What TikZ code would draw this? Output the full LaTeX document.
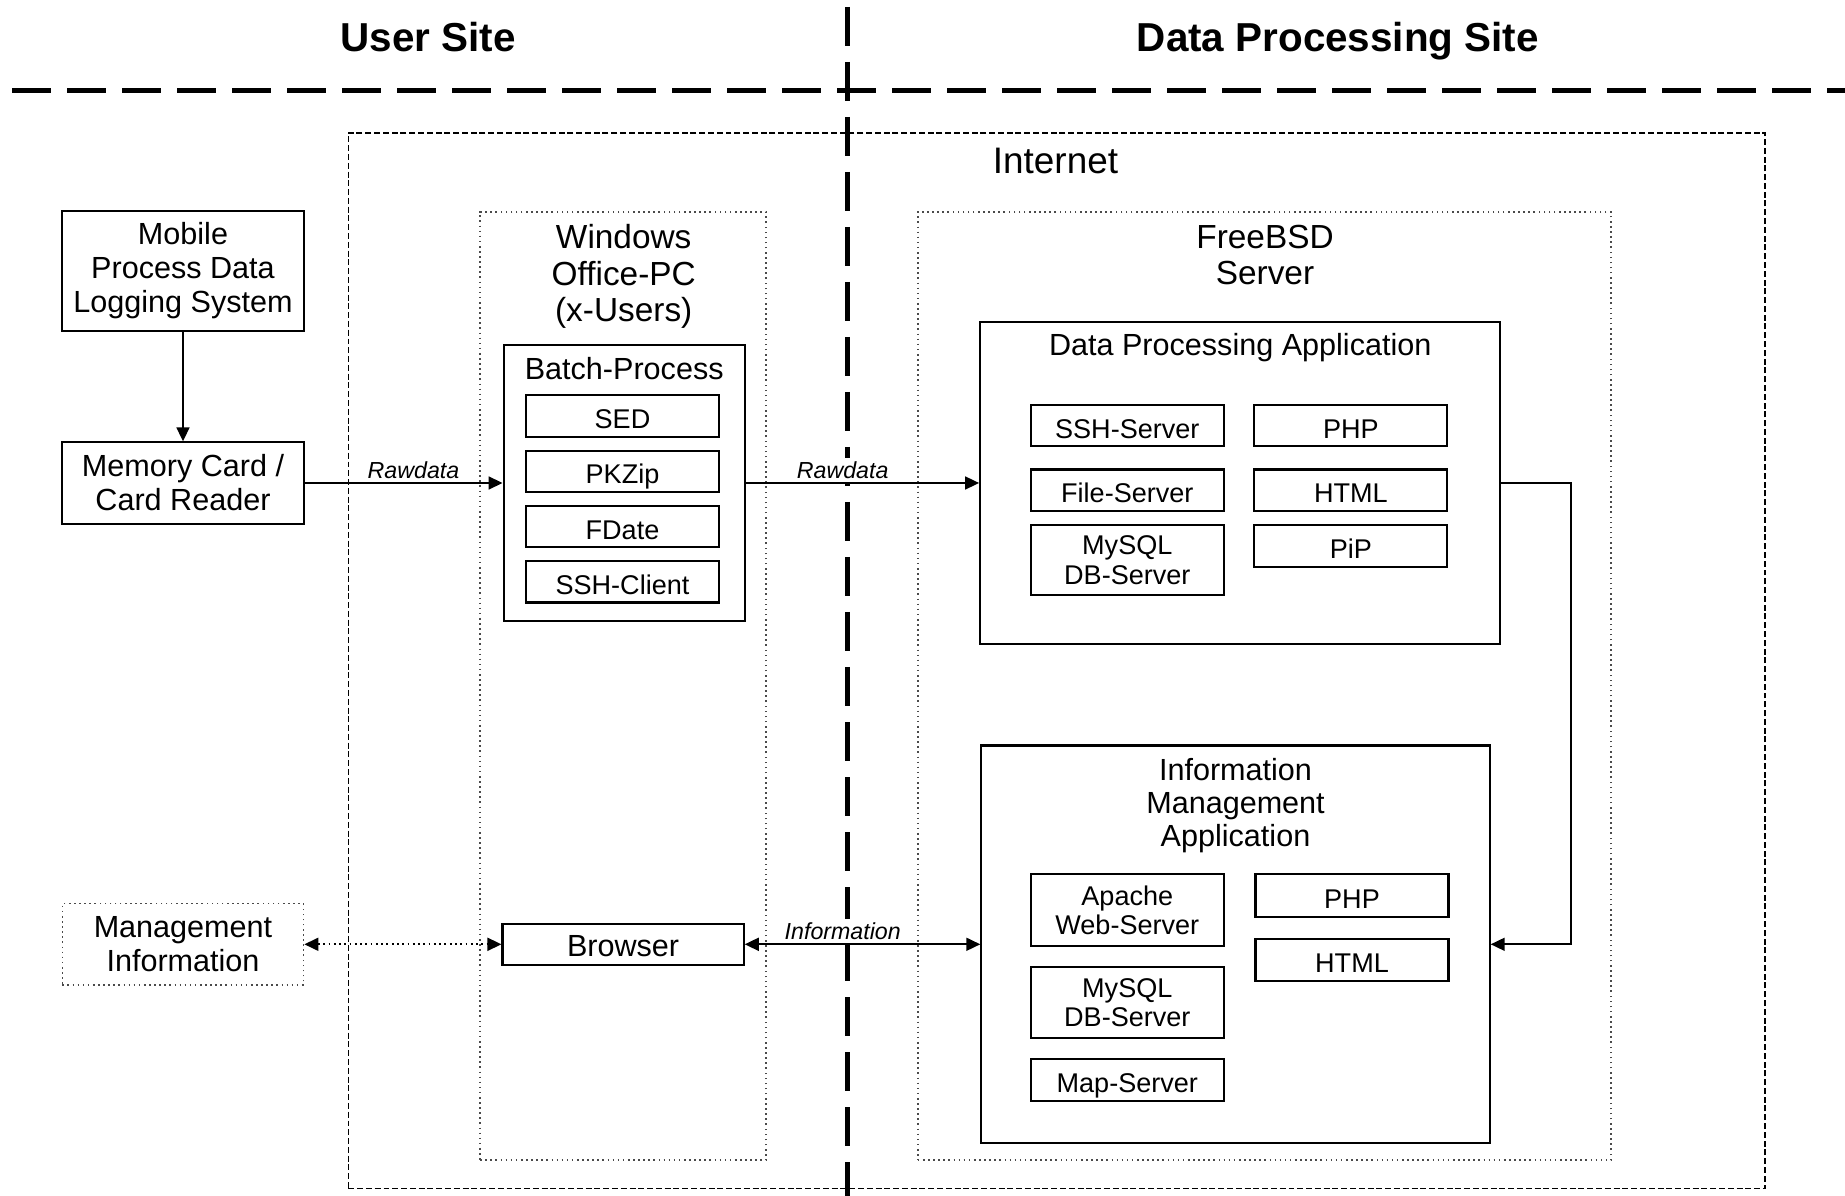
\documentclass[tikz,border=0pt]{standalone}
\usepackage{fontspec}
\setmainfont{Liberation Sans}
\usepackage{tikz}
\usetikzlibrary{arrows.meta}
\definecolor{hostGray}{HTML}{4A4A4A}
\tikzset{
  flow/.style={-{Triangle[length=1.4mm,width=1.3mm]}, line width=0.5pt},
  both flow/.style={{Triangle[length=1.4mm,width=1.3mm]}-{Triangle[length=1.4mm,width=1.3mm]},
    line width=0.5pt},
  site line/.style={line width=1.3pt, dash pattern=on 0.39cm off 0.16cm},
  net box/.style={draw, line width=0.45pt, dash pattern=on 1.7pt off 0.8pt,
    inner sep=0pt},
  host box/.style={draw=hostGray, line width=0.45pt, densely dotted, inner sep=0pt},
  unit box/.style={draw, line width=0.6pt, minimum width=2.412cm, align=center,
    inner sep=0pt, font=\fontsize{8.7}{9.7}\selectfont},
  group box/.style={draw, line width=0.6pt, inner sep=0pt},
  item box/.style={draw, line width=0.6pt, minimum width=1.93cm,
    minimum height=0.412cm, inner sep=0pt, align=center,
    font=\fontsize{7.7}{8.4}\selectfont},
  one line/.style={text height=0.72em, text depth=0em},
  site label/.style={anchor=base, font=\fontsize{11.5}{13}\selectfont\bfseries},
  host label/.style={align=center, font=\fontsize{9.5}{10.4}\selectfont},
  group label/.style={align=center, font=\fontsize{8.7}{9.4}\selectfont},
  flow label/.style={font=\fontsize{6.6}{7}\selectfont\itshape, fill=white,
    inner sep=1pt}
}

\begin{document}
\begin{tikzpicture}
  \useasboundingbox (0,0) rectangle (18.45,-11.96);

  \node[site label] (user) at (4.283,-0.511) {User Site};
  \node[site label] (dps) at (13.379,-0.511) {Data Processing Site};
  \draw[site line] (0.123,-0.905) -- (18.45,-0.905);
  \draw[site line] (8.473,-0.07) -- (8.473,-11.96);

  \node[net box, minimum width=14.167cm, minimum height=10.555cm] (inet) at (10.567,-6.607) {};
  \node[font=\fontsize{10.5}{12}\selectfont] (inettitle) at (10.555,-1.612) {Internet};

  \node[unit box, minimum height=1.2cm] (mobile) at (1.830,-2.706) {Mobile\\Process Data\\Logging System};
  \node[unit box, minimum height=0.812cm] (memory) at (1.830,-4.830) {Memory Card /\\Card Reader};
  \node[unit box, host box, minimum height=0.812cm] (mgmt) at (1.830,-9.443) {Management\\Information};

  \node[host box, minimum width=2.859cm, minimum height=9.484cm] (winpc) at (6.231,-6.860) {};
  \node[host label] (wintitle) at (6.237,-2.765) {Windows\\Office-PC\\(x-Users)};
  \node[group box, minimum width=2.412cm, minimum height=2.765cm] (batch) at (6.242,-4.830) {};
  \node[group label] (batchtitle) at (6.242,-3.683) {Batch-Process};
  \node[item box, one line] (sed) at (6.225,-4.160) {SED};
  \node[item box, one line] (pkzip) at (6.225,-4.713) {PKZip};
  \node[item box, one line] (fdate) at (6.225,-5.266) {FDate};
  \node[item box, one line] (sshc) at (6.225,-5.819) {SSH-Client};
  \node[unit box, one line, minimum height=0.412cm] (browser) at (6.231,-9.443) {Browser};

  \node[host box, minimum width=6.931cm, minimum height=9.484cm] (bsd) at (12.644,-6.860) {};
  \node[host label] (bsdtitle) at (12.650,-2.548) {FreeBSD\\Server};

  \node[group box, minimum width=5.201cm, minimum height=3.224cm] (dpa) at (12.402,-4.830) {};
  \node[group label] (dpatitle) at (12.402,-3.480) {Data Processing Application};
  \node[item box, one line] (sshs) at (11.273,-4.254) {SSH-Server};
  \node[item box, one line] (dphp) at (13.509,-4.254) {PHP};
  \node[item box, one line] (files) at (11.273,-4.901) {File-Server};
  \node[item box, one line] (dhtml) at (13.509,-4.901) {HTML};
  \node[item box, minimum height=0.706cm] (dmysql) at (11.273,-5.601) {MySQL\\DB-Server};
  \node[item box, one line, minimum height=0.424cm] (pip) at (13.509,-5.460) {PiP};

  \node[group box, minimum width=5.083cm, minimum height=3.977cm] (ima) at (12.355,-9.443) {};
  \node[group label] (imatitle) at (12.355,-8.055) {Information\\Management\\Application};
  \node[item box, minimum height=0.718cm] (apache) at (11.273,-9.102) {Apache\\Web-Server};
  \node[item box, one line, minimum height=0.424cm] (iphp) at (13.520,-8.955) {PHP};
  \node[item box, one line, minimum height=0.424cm] (ihtml) at (13.520,-9.602) {HTML};
  \node[item box, minimum height=0.706cm] (imysql) at (11.273,-10.025) {MySQL\\DB-Server};
  \node[item box, one line, minimum height=0.424cm] (maps) at (11.273,-10.802) {Map-Server};

  \draw[flow] (mobile) -- (memory);
  \draw[flow] (memory) -- node[flow label, above, pos=0.55] {Rawdata} (batch);
  \draw[flow] (batch.east) -- node[flow label, above, pos=0.415] {Rawdata} (dpa.west);
  \draw[flow] (dpa.east) -- ++(0.694,0) |- (ima.east);
  \draw[both flow, densely dotted] (mgmt) -- (browser);
  \draw[both flow] (browser.east) -- node[flow label, above, pos=0.416] {Information} (ima.west);
\end{tikzpicture}
\end{document}
